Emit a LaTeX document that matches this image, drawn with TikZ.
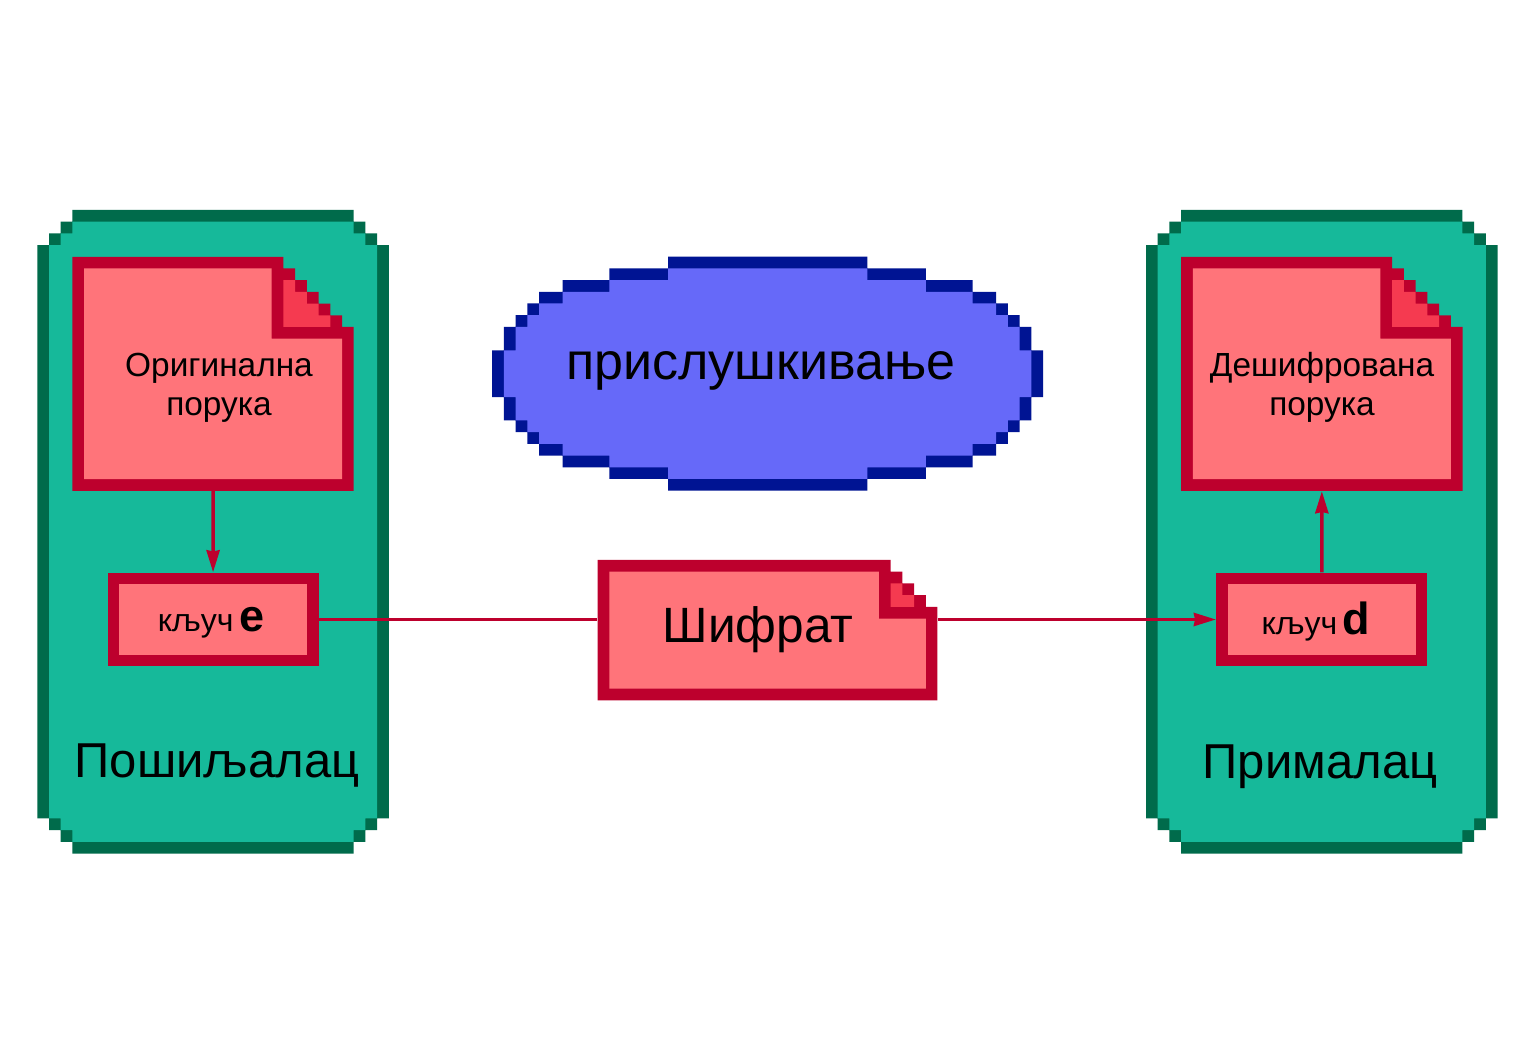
\documentclass[tikz,border=0pt]{standalone}
\usepackage{fontspec}
\setmainfont{Liberation Sans}
\usetikzlibrary{arrows.meta,fit}
\definecolor{grfill}{RGB}{22,185,154}
\definecolor{grdark}{RGB}{0,107,75}
\definecolor{rdark}{RGB}{189,0,45}
\definecolor{pinkfill}{RGB}{255,116,122}
\definecolor{foldfill}{RGB}{245,58,80}
\definecolor{bluefill}{RGB}{102,105,249}
\definecolor{bluedark}{RGB}{0,20,147}
\tikzset{
  pixgrid/.style={x=5.86pt,y=-5.85pt},
  area/.style={inner sep=0pt,draw=none},
  lbl/.style={anchor=base,inner sep=0pt,text=black},
  conn/.style={draw=rdark,line width=1.75pt},
  arr/.style={conn,-{Stealth[length=11pt,width=6.5pt,inset=0.6pt]}},
}
\newcommand{\mkgreen}[3]{%
  \begin{scope}[shift={(#1,#2)},pixgrid]
    \fill[grdark] (3,0)--(27,0)--(27,1)--(28,1)--(28,2)--(29,2)--(29,3)--(30,3)--(30,52)--(29,52)--(29,53)--(28,53)--(28,54)--(27,54)--(27,55)--(3,55)--(3,54)--(2,54)--(2,53)--(1,53)--(1,52)--(0,52)--(0,3)--(1,3)--(1,2)--(2,2)--(2,1)--(3,1)--cycle;
    \fill[grfill] (3,1)--(27,1)--(27,2)--(28,2)--(28,3)--(29,3)--(29,52)--(28,52)--(28,53)--(27,53)--(27,54)--(3,54)--(3,53)--(2,53)--(2,52)--(1,52)--(1,3)--(2,3)--(2,2)--(3,2)--cycle;
    \node[area,fit={(0,0)(30,55)}] (#3) {};
  \end{scope}}
\newcommand{\mkdoc}[3]{%
  \begin{scope}[shift={(#1,#2)},pixgrid]
    \fill[rdark] (0,0)--(18,0)--(18,1)--(19,1)--(19,2)--(20,2)--(20,3)--(21,3)--(21,4)--(22,4)--(22,5)--(23,5)--(23,6)--(24,6)--(24,20)--(0,20)--cycle;
    \fill[pinkfill] (1,1)--(17,1)--(17,7)--(23,7)--(23,19)--(1,19)--cycle;
    \fill[foldfill] (18,2)--(19,2)--(19,3)--(20,3)--(20,4)--(21,4)--(21,5)--(22,5)--(22,6)--(18,6)--cycle;
    \node[area,fit={(0,0)(24,20)}] (#3) {};
  \end{scope}}
\newcommand{\mkkey}[3]{%
  \begin{scope}[shift={(#1,#2)},pixgrid]
    \fill[rdark] (0,0) rectangle (18,8);
    \fill[pinkfill] (1,1) rectangle (17,7);
    \node[area,fit={(0,0)(18,8)}] (#3) {};
  \end{scope}}
\begin{document}
\begin{tikzpicture}[x=0.5pt,y=-0.5pt]
\useasboundingbox (0,0) rectangle (1536,1063);
\fill[white] (0,0) rectangle (1536,1063);
% sender / receiver
\mkgreen{37.3}{210}{sender}
\mkgreen{1146}{210}{receiver}
\mkdoc{72.46}{256.8}{docL}
\mkdoc{1181.2}{256.8}{docR}
\mkkey{107.6}{572.7}{keyL}
\mkkey{1216.3}{572.7}{keyR}
% cipher text document
\begin{scope}[shift={(597.6,560)},pixgrid]
  \fill[rdark] (0,0)--(25,0)--(25,1)--(26,1)--(26,2)--(27,2)--(27,3)--(28,3)--(28,4)--(29,4)--(29,12)--(0,12)--cycle;
  \fill[pinkfill] (1,1)--(24,1)--(24,5)--(28,5)--(28,11)--(1,11)--cycle;
  \fill[foldfill] (25,2)--(26,2)--(26,3)--(27,3)--(27,4)--(25,4)--cycle;
  \node[area,fit={(0,0)(29,12)}] (cipher) {};
\end{scope}
% eavesdropping ellipse
\begin{scope}[shift={(492.2,256.7)},pixgrid]
  \fill[bluedark] (15,0)--(32,0)--(32,1)--(37,1)--(37,2)--(41,2)--(41,3)--(43,3)--(43,4)--(44,4)--(44,5)--(45,5)--(45,6)--(46,6)--(46,8)--(47,8)--(47,12)--(46,12)--(46,14)--(45,14)--(45,15)--(44,15)--(44,16)--(43,16)--(43,17)--(41,17)--(41,18)--(37,18)--(37,19)--(32,19)--(32,20)--(15,20)--(15,19)--(10,19)--(10,18)--(6,18)--(6,17)--(4,17)--(4,16)--(3,16)--(3,15)--(2,15)--(2,14)--(1,14)--(1,12)--(0,12)--(0,8)--(1,8)--(1,6)--(2,6)--(2,5)--(3,5)--(3,4)--(4,4)--(4,3)--(6,3)--(6,2)--(10,2)--(10,1)--(15,1)--cycle;
  \fill[bluefill] (15,1)--(32,1)--(32,2)--(37,2)--(37,3)--(41,3)--(41,4)--(43,4)--(43,5)--(44,5)--(44,6)--(45,6)--(45,8)--(46,8)--(46,12)--(45,12)--(45,14)--(44,14)--(44,15)--(43,15)--(43,16)--(41,16)--(41,17)--(37,17)--(37,18)--(32,18)--(32,19)--(15,19)--(15,18)--(10,18)--(10,17)--(6,17)--(6,16)--(4,16)--(4,15)--(3,15)--(3,14)--(2,14)--(2,12)--(1,12)--(1,8)--(2,8)--(2,6)--(3,6)--(3,5)--(4,5)--(4,4)--(6,4)--(6,3)--(10,3)--(10,2)--(15,2)--cycle;
  \node[area,fit={(0,0)(47,20)}] (eaves) {};
\end{scope}
% connectors
\draw[arr] (docL.south) -- (keyL.north);
\draw[conn] (keyL.east) -- (keyL.east -| cipher.west);
\draw[arr] (keyL.east -| cipher.east) -- (keyR.west);
\draw[arr] (keyR.north) -- (docR.south);
% labels
\node[lbl,font=\fontsize{16.7}{19}\selectfont] (tOrig) at (219,377) {Оригинална};
\node[lbl,font=\fontsize{16.7}{19}\selectfont] (tPor1) at (219,416) {порука};
\node[lbl,font=\fontsize{16.7}{19}\selectfont] (tDes) at (1322,377) {Дешифрована};
\node[lbl,font=\fontsize{16.7}{19}\selectfont] (tPor2) at (1322,416) {порука};
\node[lbl] (tKe) at (211,631.7) {{\fontsize{16}{18}\selectfont кључ} {\fontsize{22.5}{26}\selectfont\bfseries e}};
\node[lbl] (tKd) at (1316,634) {{\fontsize{16}{18}\selectfont кључ} {\fontsize{22.5}{26}\selectfont\bfseries d}};
\node[lbl,font=\fontsize{24.8}{30}\selectfont] (tCip) at (758,642.7) {Шифрат};
\node[lbl,font=\fontsize{26}{31}\selectfont] (tEav) at (761,380) {прислушкивање};
\node[lbl,font=\fontsize{24.5}{27}\selectfont] (tSen) at (217,777) {Пошиљалац};
\node[lbl,font=\fontsize{24.5}{27}\selectfont] (tRec) at (1320,778) {Прималац};
\end{tikzpicture}
\end{document}
